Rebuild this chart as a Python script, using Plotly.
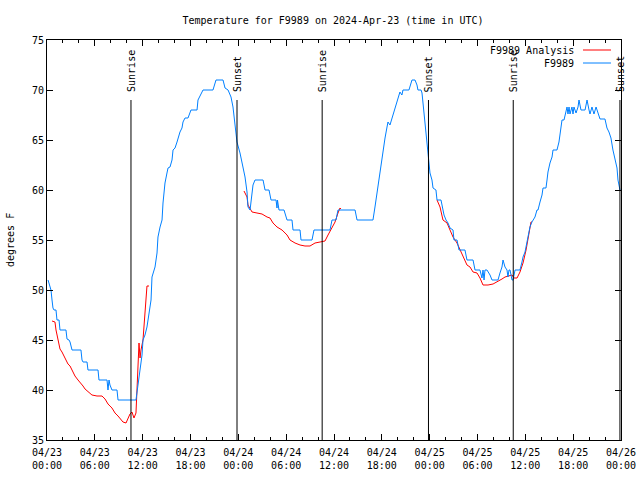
import pandas as pd
import plotly.graph_objects as go

# ---------------- data ----------------
BASE = "2024-04-23 00:00"

# F9989 observations: hours since 2024-04-23 00:00 UTC, temperature (F)
obs_hours = [0.13, 0.50, 0.63, 0.75, 0.88, 1.13, 1.25, 1.51, 1.63, 2.38, 2.51, 2.76, 2.89, 3.14, 4.26, 4.39,
             4.52, 5.02, 5.14, 6.40, 6.52, 7.53, 7.65, 7.78, 7.90, 8.15, 8.78, 8.91, 11.16, 11.29, 11.42,
             11.54, 11.67, 11.92, 12.04, 12.29, 12.54, 12.80, 13.05, 13.17, 13.55, 13.80, 13.92, 14.18,
             14.43, 14.55, 14.80, 15.05, 15.18, 15.43, 15.68, 15.81, 16.06, 16.31, 16.43, 16.68, 16.93,
             17.06, 17.31, 17.69, 18.06, 18.82, 18.94, 19.44, 19.57, 20.82, 21.20, 22.08, 22.33, 22.71,
             23.08, 23.33, 23.58, 23.83, 24.21, 24.46, 24.59, 24.84, 25.09, 25.21, 25.47, 25.59, 25.72,
             25.84, 26.09, 27.10, 27.35, 27.85, 28.10, 28.60, 28.73, 28.85, 28.91, 29.10, 29.73, 30.11,
             30.73, 30.86, 31.74, 31.86, 33.24, 33.49, 35.50, 35.75, 36.25, 36.50, 38.64, 38.89, 40.89,
             41.14, 41.40, 41.52, 41.77, 42.02, 42.15, 42.40, 42.65, 42.77, 43.02, 43.27, 43.65, 43.90,
             44.02, 44.27, 44.52, 44.65, 45.40, 45.65, 45.78, 46.16, 46.41, 46.53, 46.92, 47.04, 47.17,
             47.42, 47.67, 47.79, 47.92, 48.04, 48.29, 48.42, 48.79, 48.92, 49.42, 49.67, 49.80, 50.05,
             50.30, 50.55, 50.93, 51.05, 51.43, 51.68, 52.43, 52.68, 53.44, 53.69, 54.31, 54.56, 54.69,
             54.82, 54.94, 55.19, 55.57, 55.82, 56.57, 56.82, 57.07, 57.20, 57.45, 57.70, 57.82, 57.95,
             58.08, 58.33, 58.46, 58.71, 59.33, 59.58, 59.71, 59.96, 60.21, 60.33, 60.58, 60.83, 60.96,
             61.21, 61.46, 61.59, 61.84, 62.09, 62.22, 62.59, 62.72, 62.84, 63.09, 63.35, 63.47, 63.97,
             64.22, 64.47, 64.60, 64.85, 65.10, 65.23, 65.35, 65.48, 65.60, 65.85, 65.98, 66.10, 66.36,
             66.61, 66.73, 66.98, 67.49, 67.74, 67.99, 68.11, 68.36, 68.61, 68.87, 69.12, 69.37, 69.99,
             70.24, 70.49, 70.74, 70.99, 71.24, 71.50, 71.62, 71.75, 71.87]
obs_temp = [51, 50, 49, 48.2, 48, 48, 47, 47, 46, 46, 45.1, 45, 44.8, 44, 44, 43,
            42.8, 42.8, 42, 42, 41, 41, 40, 41, 40.5, 40, 40, 39, 39, 39.7, 40.5,
            41.2, 42, 43.5, 45, 45.5, 46.3, 47.5, 49, 51.3, 52.3, 53.7, 55.3, 56.3,
            57, 58.7, 60.7, 61.7, 62.2, 62.3, 63, 64, 64.2, 64.8, 65.2, 65.8, 66.2,
            66.8, 67.2, 67.2, 68, 68, 69, 69.8, 70, 70, 71, 71, 70.2, 70,
            69.3, 68.3, 66.3, 64.8, 63.7, 62.8, 62, 61.3, 59.8, 58.3, 58, 58.7, 60,
            60.5, 61, 61, 60, 60, 59, 59, 59, 58.2, 59, 58, 58, 57,
            57, 56, 56, 55, 55, 56, 56, 57, 57, 58, 58, 57, 57,
            58.3, 59.7, 60.7, 61.7, 63, 64.2, 65.2, 66.3, 66.8, 66.5, 67.2, 68, 68.8,
            69.3, 69.8, 69.5, 70, 70, 70.7, 71, 71, 70.5, 70, 70, 69.7, 68.7,
            66.3, 65, 63.7, 62.7, 61.7, 61, 60.2, 60, 59, 59, 58, 57.5, 57,
            56.7, 56.2, 56, 55, 55, 54, 54, 53, 53, 52, 52, 51.2, 52,
            51, 52, 52, 51.5, 51, 51, 51.7, 52.3, 53, 52.3, 52, 51.3, 52,
            52, 51, 51, 52, 52, 52.8, 53.3, 53.8, 54.7, 55.3, 56.3, 56.8, 57,
            57.3, 58, 58, 58.8, 59.5, 60.2, 60.2, 61, 61.8, 62.7, 63.3, 64, 64,
            64.8, 66, 67, 67, 67.7, 68.3, 67.6, 68.3, 67.6, 68.3, 67.6, 68.3, 67.7,
            68.3, 69, 68, 68, 69, 68, 67.6, 68.3, 67.6, 68.3, 67.6, 67.1, 67.1,
            66.2, 65.8, 65.2, 64, 63, 62.2, 61, 60.2, 60]

# F9989 Analysis: three night-time segments
ana1_hours = [0.63, 1.00, 1.13, 1.38, 1.63, 1.88, 2.26, 2.63, 2.89, 3.14, 3.51, 3.89, 4.14, 4.52, 4.77,
              5.14, 5.64, 6.27, 6.90, 7.28, 7.65, 8.15, 8.53, 8.91, 9.28, 9.53, 9.91, 10.16, 10.41,
              10.66, 10.79, 10.91, 11.16, 11.29, 11.42, 11.54, 11.67, 11.79, 12.04, 12.17, 12.29,
              12.54, 12.80]
ana1_temp = [46.9, 46.8, 46, 45, 44.1, 43.8, 43.2, 42.6, 42.4, 42, 41.4, 41, 40.8, 40.4, 40.1,
             39.8, 39.5, 39.4, 39.4, 39.1, 38.6, 38.2, 37.7, 37.4, 37.1, 36.8, 36.7, 37.2, 37.6,
             37.8, 37.3, 37.2, 37.7, 40.8, 42.3, 44.7, 43.2, 44, 45, 46.3, 48,
             50.4, 50.4]
ana2_hours = [24.71, 25.09, 25.21, 25.72, 26.34, 26.97, 27.60, 27.97, 28.35, 28.85, 29.48, 30.11, 30.48,
              31.11, 31.74, 32.36, 32.99, 33.62, 34.25, 34.87, 35.25, 35.75, 36.13, 36.50, 36.75, 36.88]
ana2_temp = [59.9, 59.3, 58.5, 57.8, 57.7, 57.6, 57.3, 57.2, 56.7, 56.3, 56, 55.5, 55,
             54.7, 54.5, 54.4, 54.4, 54.7, 54.8, 54.9, 55.5, 56.2, 56.8, 57.7, 58.2, 58.1]
ana3_hours = [48.92, 49.30, 49.67, 50.18, 50.55, 50.93, 51.43, 51.81, 52.18, 52.68, 53.06, 53.44, 53.94,
              54.31, 54.69, 55.32, 55.95, 56.45, 57.07, 57.45, 57.82, 58.33, 58.58, 58.96, 59.33,
              59.71, 60.09, 60.33, 60.46, 60.71, 60.83]
ana3_temp = [59, 58.3, 57, 56.7, 56, 55.3, 54.7, 54, 53.5, 52.5, 52.3, 51.8, 51.7,
             51.2, 50.5, 50.5, 50.6, 50.8, 51.1, 51.3, 51.4, 51.5, 51.2, 51.2, 51.8,
             52.7, 54, 55.2, 55.8, 56.8, 56.8]

# Sun events (UTC)
event_labels = ["Sunrise", "Sunset", "Sunrise", "Sunset", "Sunrise", "Sunset"]
event_times = ["2024-04-23 10:32", "2024-04-23 23:50", "2024-04-24 10:31",
               "2024-04-24 23:51", "2024-04-25 10:29", "2024-04-25 23:52"]

# x tick labels
tick_times = ["2024-04-23 00:00", "2024-04-23 06:00", "2024-04-23 12:00", "2024-04-23 18:00",
              "2024-04-24 00:00", "2024-04-24 06:00", "2024-04-24 12:00", "2024-04-24 18:00",
              "2024-04-25 00:00", "2024-04-25 06:00", "2024-04-25 12:00", "2024-04-25 18:00",
              "2024-04-26 00:00"]
tick_labels = ["04/23<br>00:00", "04/23<br>06:00", "04/23<br>12:00", "04/23<br>18:00",
               "04/24<br>00:00", "04/24<br>06:00", "04/24<br>12:00", "04/24<br>18:00",
               "04/25<br>00:00", "04/25<br>06:00", "04/25<br>12:00", "04/25<br>18:00",
               "04/26<br>00:00"]

title_text = "Temperature for F9989 on 2024-Apr-23 (time in UTC)"
series_names = ["F9989 Analysis", "F9989"]
series_colors = ["#ff0000", "#0080ff"]

# ---------------- build ----------------
base = pd.Timestamp(BASE)


def to_time(hours):
    return list(base + pd.to_timedelta(hours, unit="h"))


ana_x = to_time(ana1_hours) + [None] + to_time(ana2_hours) + [None] + to_time(ana3_hours)
ana_y = ana1_temp + [None] + ana2_temp + [None] + ana3_temp

FONT = "DejaVu Sans Mono"

fig = go.Figure()
fig.add_trace(go.Scatter(x=ana_x, y=ana_y, mode="lines", name=series_names[0],
                         line=dict(color=series_colors[0], width=1), connectgaps=False,
                         showlegend=False))
fig.add_trace(go.Scatter(x=to_time(obs_hours), y=obs_temp, mode="lines", name=series_names[1],
                         line=dict(color=series_colors[1], width=1), showlegend=False))

# sunrise / sunset markers
for lab, t in zip(event_labels, event_times):
    fig.add_shape(type="line", xref="x", yref="y", x0=t, x1=t, y0=35, y1=69,
                  line=dict(color="black", width=1))
    center_px = 92 - 3 * len(lab)
    fig.add_annotation(x=t, y=75 - (center_px - 40) / 10, xref="x", yref="y", text=lab,
                       textangle=-90, showarrow=False, xanchor="center", yanchor="middle",
                       font=dict(family=FONT, size=10, color="black"))

# legend drawn gnuplot-style (text left, sample right)
L, W, T, H = 47, 574, 40, 400
for i, (nm, col) in enumerate(zip(series_names, series_colors)):
    ypx = 50 + 13 * i
    yp = (T + H - ypx) / H
    fig.add_annotation(x=(576 - L) / W, y=yp, xref="paper", yref="paper", text=nm,
                       showarrow=False, xanchor="right", yanchor="middle",
                       font=dict(family=FONT, size=10, color="black"))
    fig.add_shape(type="line", xref="paper", yref="paper", x0=(583 - L) / W, x1=(611 - L) / W,
                  y0=yp, y1=yp, line=dict(color=col, width=1))

# y axis label
fig.add_annotation(x=(10 - L) / W, y=0.5, xref="paper", yref="paper", text="degrees F",
                   textangle=-90, showarrow=False, xanchor="center", yanchor="middle",
                   font=dict(family=FONT, size=10, color="black"))

fig.update_layout(
    width=640, height=480,
    margin=dict(l=L, r=640 - L - W, t=T, b=480 - T - H, pad=0, autoexpand=False),
    paper_bgcolor="white", plot_bgcolor="white",
    font=dict(family=FONT, size=10, color="black"),
    title=dict(text=title_text, x=333 / 640, xref="container", xanchor="center",
               y=1 - 20 / 480, yref="container", yanchor="middle",
               font=dict(family=FONT, size=10, color="black")),
    showlegend=False,
)
fig.update_xaxes(
    range=[tick_times[0], tick_times[-1]], tickvals=tick_times, ticktext=tick_labels,
    ticks="inside", ticklen=6, tickcolor="black", showline=True, linecolor="black", linewidth=1,
    mirror="ticks", showgrid=False, zeroline=False, tickangle=0, automargin=False,
    ticklabelstandoff=3,
    minor=dict(ticks="inside", ticklen=3, dtick=2 * 3600 * 1000, tick0=tick_times[0],
               tickcolor="black", showgrid=False),
)
fig.update_yaxes(
    range=[35, 75], dtick=5, tick0=35, ticks="inside", ticklen=6, tickcolor="black",
    showline=True, linecolor="black", linewidth=1, mirror="ticks", showgrid=False,
    zeroline=False, automargin=False,
)

fig.write_html("out.html")
